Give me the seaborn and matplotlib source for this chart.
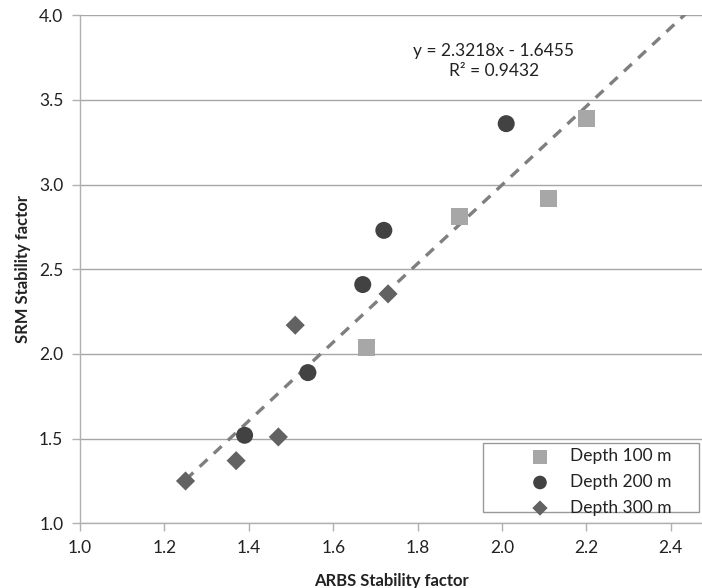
import numpy as np
import pandas as pd
import matplotlib
matplotlib.use("Agg")
import matplotlib.pyplot as plt
from matplotlib.patches import Rectangle
import seaborn as sns

# Data
depth100_x = [1.68, 1.90, 2.11, 2.20]
depth100_y = [2.04, 2.81, 2.92, 3.39]
depth200_x = [1.39, 1.54, 1.67, 1.72, 2.01]
depth200_y = [1.52, 1.89, 2.41, 2.73, 3.36]
depth300_x = [1.25, 1.37, 1.47, 1.51, 1.73]
depth300_y = [1.25, 1.37, 1.51, 2.17, 2.355]
series_names = ["Depth 100 m", "Depth 200 m", "Depth 300 m"]
slope = 2.3218
intercept = -1.6455
r2 = 0.9432
x_ticks = [1.0, 1.2, 1.4, 1.6, 1.8, 2.0, 2.2, 2.4]
y_ticks = [1.0, 1.5, 2.0, 2.5, 3.0, 3.5, 4.0]

df = pd.DataFrame({
    "x": depth100_x + depth200_x + depth300_x,
    "y": depth100_y + depth200_y + depth300_y,
    "series": [series_names[0]] * len(depth100_x)
              + [series_names[1]] * len(depth200_x)
              + [series_names[2]] * len(depth300_x),
})

sns.set_theme(style="white")
plt.rcParams["font.family"] = ["Lato", "DejaVu Sans"]

W, H = 702, 588
fig = plt.figure(figsize=(W / 100, H / 100), dpi=100)
ax = fig.add_axes([0.114, 0.110, 0.886, 0.864])

palette = {series_names[0]: "#a7a7a7", series_names[1]: "#424242", series_names[2]: "#626262"}
markers = {series_names[0]: "s", series_names[1]: "o", series_names[2]: "D"}
sizes_map = {series_names[0]: 150, series_names[1]: 150, series_names[2]: 95}

for name in series_names:
    sub = df[df["series"] == name]
    sns.scatterplot(data=sub, x="x", y="y", ax=ax, color=palette[name],
                    marker=markers[name], s=sizes_map[name], edgecolor="none",
                    label=name, zorder=3)

# Trendline (forward forecast)
xmin = min(df["x"])
xl = np.array([xmin, 2.6])
ax.plot(xl, slope * xl + intercept, linestyle=(0, (3.2, 2.6)), color="#7f7f7f",
        linewidth=2.4, zorder=2)

ax.set_xlim(1.0, 2.474)
ax.set_ylim(1.0, 4.0)
ax.set_xticks(x_ticks)
ax.set_yticks(y_ticks)
ax.set_xticklabels([f"{t:.1f}" for t in x_ticks], fontsize=12.5, color="#222222")
ax.set_yticklabels([f"{t:.1f}" for t in y_ticks], fontsize=12.5, color="#222222")
ax.grid(axis="y", color="#a6a6a6", linewidth=1.0)
ax.grid(axis="x", visible=False)
ax.set_axisbelow(True)
for side in ["top", "right"]:
    ax.spines[side].set_visible(False)
for side in ["left", "bottom"]:
    ax.spines[side].set_color("#b0b0b0")
    ax.spines[side].set_linewidth(1.0)
ax.tick_params(axis="both", which="major", direction="out", length=6, width=1.0,
               color="#b0b0b0", pad=6, bottom=True, left=True)

ax.set_xlabel("ARBS Stability factor", fontsize=12, fontweight="bold", color="#222222", labelpad=12)
ax.set_ylabel("SRM Stability factor", fontsize=12, fontweight="bold", color="#222222", labelpad=6)

ax.text(1.981, 3.73, f"y = {slope:.4f}x - {abs(intercept):.4f}\nR² = {r2:.4f}",
        ha="center", va="center", fontsize=12.5, color="#222222", linespacing=1.3)

# Legend: frameless legend plus a separate frame rectangle
fs = 12.5
leg = ax.legend(loc="upper left", bbox_to_anchor=(531.3 / W, 1 - 448.5 / H),
                bbox_transform=fig.transFigure, frameon=False,
                fontsize=fs, borderpad=0, handletextpad=1.22, labelspacing=0.55,
                borderaxespad=0, handlelength=1.0, markerscale=0.8)
for t in leg.get_texts():
    t.set_color("#222222")
frame = Rectangle((483 / W, 1 - 512 / H), (699 - 483) / W, (512 - 443) / H,
                  transform=fig.transFigure, fill=True, facecolor="white",
                  edgecolor="#999999", linewidth=1.0, zorder=4, clip_on=False)
ax.add_patch(frame)
leg.set_zorder(5)

fig.savefig("out.png", dpi=100)
